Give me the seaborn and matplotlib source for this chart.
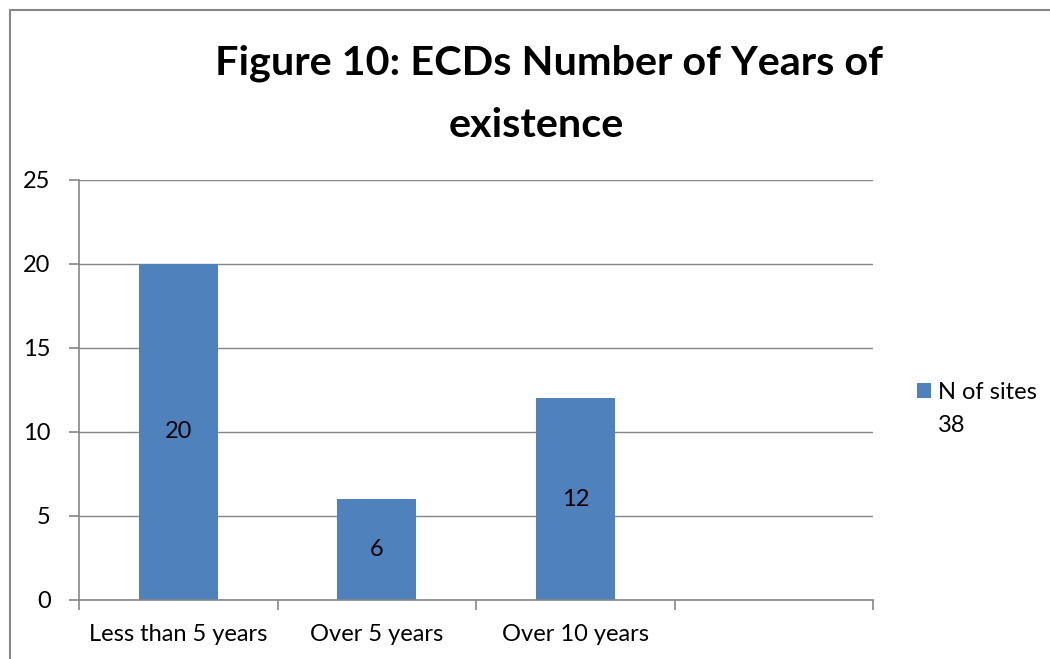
import matplotlib
matplotlib.use("Agg")
import matplotlib.pyplot as plt
from matplotlib.patches import Rectangle
from matplotlib.ticker import FixedLocator
import seaborn as sns
import pandas as pd

# Data
categories = ["Less than 5 years", "Over 5 years", "Over 10 years"]
slots = ["Less than 5 years", "Over 5 years", "Over 10 years", " "]
n_sites = [20, 6, 12]
series_name = "N of sites"
series_total = "38"
title_lines = ["Figure 10: ECDs Number of Years of", "existence"]

bar_color = "#4F81BD"
grid_color = "#868686"

sns.set_theme(style="white")
plt.rcParams["font.family"] = ["Lato", "DejaVu Sans"]
plt.rcParams["text.color"] = "black"

df = pd.DataFrame({"period": categories, "sites": n_sites})

W, H = 1050, 659
fig = plt.figure(figsize=(W / 100, H / 100), dpi=100)
ax = fig.add_axes([79 / W, 59 / H, (873 - 79) / W, (600 - 180) / H])

sns.barplot(data=df, x="period", y="sites", order=slots, color=bar_color,
            width=0.4, saturation=1, linewidth=0, ax=ax, label=series_name)

ax.set_xlim(-0.5, len(slots) - 0.5)
ax.set_ylim(0, 25)
ax.set_yticks([0, 5, 10, 15, 20, 25])
ax.yaxis.grid(True, color=grid_color, linewidth=1)
ax.set_axisbelow(True)
ax.set_xlabel("")
ax.set_ylabel("")

for side in ["top", "right"]:
    ax.spines[side].set_visible(False)
for side in ["left", "bottom"]:
    ax.spines[side].set_color(grid_color)
    ax.spines[side].set_linewidth(1.2)

# Category boundaries carry the tick marks; labels sit between them
ax.xaxis.set_minor_locator(FixedLocator([i - 0.5 for i in range(len(slots) + 1)]))
ax.tick_params(axis="x", which="major", length=0, labelsize=17, pad=17,
               labelcolor="black")
ax.tick_params(axis="x", which="minor", bottom=True, length=7, width=1.2,
               color=grid_color)
ax.tick_params(axis="y", which="major", left=True, length=7, width=1.2,
               color=grid_color, labelsize=17, pad=13.5, labelcolor="black")

# Value labels centred in each bar
for container in ax.containers:
    ax.bar_label(container, labels=[f"{v:g}" for v in n_sites],
                 label_type="center", fontsize=17, color="black")

# Two-line bold title
for line, cx, base in zip(title_lines, [549, 536], [75, 137]):
    fig.text(cx / W, 1 - base / H, line, ha="center", va="baseline",
             fontsize=29.8, fontweight="bold", color="black")

leg = ax.legend(loc="upper left", bbox_to_anchor=(917 / W, 1 - 382 / H),
                bbox_transform=fig.transFigure, frameon=False, fontsize=17,
                handlelength=0.6, handleheight=0.6, handletextpad=0.3,
                borderaxespad=0, borderpad=0)
fig.text(938 / W, 1 - 425 / H, series_total, ha="left", va="center",
         fontsize=17, color="black")

# Outer chart frame
fig.patches.append(Rectangle((10 / W, -0.2), 1.2, 1 - 10 / H + 0.2,
                             transform=fig.transFigure, fill=False,
                             edgecolor="#878787", linewidth=1.5))

fig.savefig("out.png", dpi=100)
